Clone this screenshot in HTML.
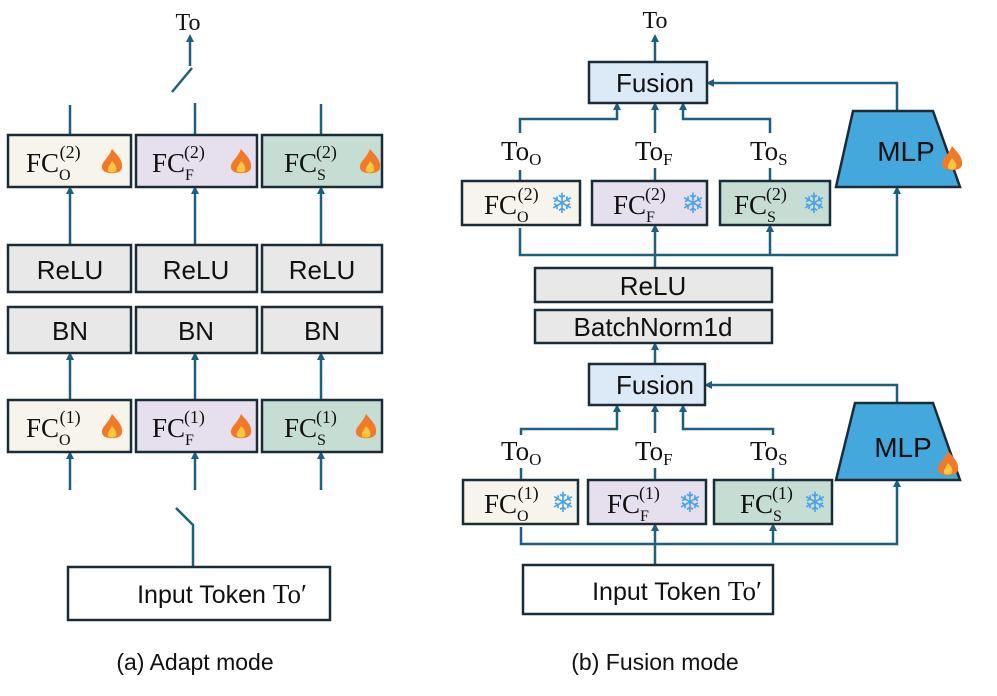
<!DOCTYPE html>
<html><head><meta charset="utf-8"><style>
body{margin:0;background:#fff}
svg text{font-family:"Liberation Sans",sans-serif}
svg text.s, svg .s text, svg tspan.s{font-family:"Liberation Serif",serif}
</style></head><body>
<svg width="997" height="691" viewBox="0 0 997 691" xmlns="http://www.w3.org/2000/svg">
<defs>
<marker id="a" markerWidth="8" markerHeight="8" refX="4" refY="4" orient="auto" markerUnits="userSpaceOnUse"><path d="M0,0 L8,4 L0,8 z" fill="#1d5f80"/></marker>
<g id="fire"><path d="M0,-14 C7,-6 11,-2 10,5 C9,12 -9,12 -10,5 C-11,-1 -4,-4 0,-14z" fill="#f07a2a"/><path d="M0,-2 C4,2 5,5 4,8 C2,10 -3,10 -4,8 C-5,5 -2,2 0,-2z" fill="#ffc640"/></g>
</defs>
<g stroke="#1d5f80" stroke-width="2.5" fill="none">
<line x1="190" y1="66" x2="190" y2="38" marker-end="url(#a)"/>
<line x1="172" y1="92" x2="192" y2="68"/>
<line x1="70" y1="105" x2="70" y2="135"/><line x1="195" y1="103" x2="195" y2="135"/><line x1="321" y1="104" x2="321" y2="135"/>
<line x1="70" y1="245" x2="70" y2="190" marker-end="url(#a)"/><line x1="195" y1="245" x2="195" y2="190" marker-end="url(#a)"/><line x1="321" y1="245" x2="321" y2="190" marker-end="url(#a)"/>
<line x1="70" y1="400" x2="70" y2="356" marker-end="url(#a)"/><line x1="195" y1="400" x2="195" y2="356" marker-end="url(#a)"/><line x1="321" y1="400" x2="321" y2="356" marker-end="url(#a)"/>
<line x1="70" y1="490" x2="70" y2="455" marker-end="url(#a)"/><line x1="195" y1="490" x2="195" y2="455" marker-end="url(#a)"/><line x1="321" y1="490" x2="321" y2="455" marker-end="url(#a)"/>
<polyline points="176,508 193,525 193,567"/>
<line x1="655" y1="62" x2="655" y2="38" marker-end="url(#a)"/>
<polyline points="520,181 520,170"/><polyline points="520,133 520,119 617,119 617,106" marker-end="url(#a)"/>
<line x1="655" y1="181" x2="655" y2="168"/><line x1="655" y1="133" x2="655" y2="106" marker-end="url(#a)"/>
<line x1="770" y1="181" x2="770" y2="168"/><polyline points="770,133 770,119 683,119 683,106" marker-end="url(#a)"/>
<polyline points="897,111 897,83 710,83" marker-end="url(#a)"/>
<polyline points="520,228 520,255 897,255 897,190" marker-end="url(#a)"/>
<line x1="655" y1="268" x2="655" y2="228" marker-end="url(#a)"/>
<line x1="770" y1="255" x2="770" y2="228" marker-end="url(#a)"/>
<line x1="655" y1="364" x2="655" y2="346" marker-end="url(#a)"/>
<polyline points="897,403 897,385 708,385" marker-end="url(#a)"/>
<line x1="521" y1="480" x2="521" y2="468"/><polyline points="521,435 521,429 617,429 617,408" marker-end="url(#a)"/>
<line x1="655" y1="480" x2="655" y2="468"/><line x1="655" y1="433" x2="655" y2="408" marker-end="url(#a)"/>
<line x1="773" y1="480" x2="773" y2="468"/><polyline points="773,435 773,429 683,429 683,408" marker-end="url(#a)"/>
<polyline points="521,527 521,544 897,544 897,483" marker-end="url(#a)"/>
<line x1="655" y1="565" x2="655" y2="527" marker-end="url(#a)"/>
<line x1="773" y1="544" x2="773" y2="527" marker-end="url(#a)"/>
</g>
<g stroke="#1a2c38" stroke-width="2.5">
<rect x="8" y="135" width="123" height="52" fill="#f7f4ec"/><rect x="136" y="135" width="121" height="52" fill="#e6dfee"/><rect x="262" y="135" width="120" height="52" fill="#c5ddd3"/>
<rect x="8" y="245" width="123" height="47" fill="#e8e8e8"/><rect x="136" y="245" width="121" height="47" fill="#e8e8e8"/><rect x="262" y="245" width="120" height="47" fill="#e8e8e8"/>
<rect x="8" y="307" width="123" height="46" fill="#e8e8e8"/><rect x="136" y="307" width="121" height="46" fill="#e8e8e8"/><rect x="262" y="307" width="120" height="46" fill="#e8e8e8"/>
<rect x="8" y="400" width="123" height="52" fill="#f7f4ec"/><rect x="136" y="400" width="121" height="52" fill="#e6dfee"/><rect x="262" y="400" width="120" height="52" fill="#c5ddd3"/>
<rect x="68" y="567" width="262" height="53" fill="#fff"/>
<rect x="589" y="62" width="118" height="41" fill="#dce9f6"/>
<rect x="462" y="181" width="118" height="44" fill="#f7f4ec"/><rect x="592" y="181" width="115" height="44" fill="#e6dfee"/><rect x="720" y="181" width="110" height="44" fill="#c5ddd3"/>
<polygon points="853,111 933,111 960,187 836,187" fill="#44a8dc"/>
<rect x="535" y="268" width="237" height="34" fill="#e8e8e8"/>
<rect x="535" y="310" width="237" height="33" fill="#e8e8e8"/>
<rect x="589" y="364" width="116" height="41" fill="#dce9f6"/>
<polygon points="855,403 933,403 960,480 836,480" fill="#44a8dc"/>
<rect x="463" y="480" width="115" height="44" fill="#f7f4ec"/><rect x="588" y="480" width="118" height="44" fill="#e6dfee"/><rect x="714" y="480" width="118" height="44" fill="#c5ddd3"/>
<rect x="523" y="565" width="250" height="49" fill="#fff"/>
</g>
<g fill="#111" font-size="26" text-anchor="middle">
<text class="s" x="188" y="30" font-size="24">To</text>
<text x="70" y="279">ReLU</text><text x="196" y="279">ReLU</text><text x="322" y="279">ReLU</text>
<text x="70" y="340">BN</text><text x="196" y="340">BN</text><text x="322" y="340">BN</text>
<text x="222" y="603" font-size="25">Input Token <tspan class="s" font-size="27">To′</tspan></text>
<text x="195" y="670" font-size="23">(a) Adapt mode</text>
<text class="s" x="655" y="28" font-size="24">To</text>
<text x="655" y="92">Fusion</text>
<text x="653" y="295">ReLU</text>
<text x="653" y="336">BatchNorm1d</text>
<text x="655" y="394">Fusion</text>
<text x="677" y="600" font-size="25">Input Token <tspan class="s" font-size="27">To′</tspan></text>
<text x="655" y="670" font-size="23">(b) Fusion mode</text>
<text x="906" y="161" font-size="28">MLP</text>
<text x="903" y="457" font-size="28">MLP</text>
</g>
<g class="s" fill="#111" font-size="27">
<text x="26" y="172">FC<tspan font-size="16" dy="8">O</tspan><tspan font-size="18" dx="-11" dy="-22">(2)</tspan></text>
<text x="152" y="172">FC<tspan font-size="16" dy="8">F</tspan><tspan font-size="18" dx="-10" dy="-22">(2)</tspan></text>
<text x="284" y="172">FC<tspan font-size="16" dy="8">S</tspan><tspan font-size="18" dx="-10" dy="-22">(2)</tspan></text>
<text x="26" y="437">FC<tspan font-size="16" dy="8">O</tspan><tspan font-size="18" dx="-11" dy="-22">(1)</tspan></text>
<text x="152" y="437">FC<tspan font-size="16" dy="8">F</tspan><tspan font-size="18" dx="-10" dy="-22">(1)</tspan></text>
<text x="284" y="437">FC<tspan font-size="16" dy="8">S</tspan><tspan font-size="18" dx="-10" dy="-22">(1)</tspan></text>
<text x="484" y="214">FC<tspan font-size="16" dy="8">O</tspan><tspan font-size="18" dx="-11" dy="-22">(2)</tspan></text>
<text x="613" y="214">FC<tspan font-size="16" dy="8">F</tspan><tspan font-size="18" dx="-10" dy="-22">(2)</tspan></text>
<text x="734" y="214">FC<tspan font-size="16" dy="8">S</tspan><tspan font-size="18" dx="-10" dy="-22">(2)</tspan></text>
<text x="484" y="513">FC<tspan font-size="16" dy="8">O</tspan><tspan font-size="18" dx="-11" dy="-22">(1)</tspan></text>
<text x="607" y="513">FC<tspan font-size="16" dy="8">F</tspan><tspan font-size="18" dx="-10" dy="-22">(1)</tspan></text>
<text x="740" y="513">FC<tspan font-size="16" dy="8">S</tspan><tspan font-size="18" dx="-10" dy="-22">(1)</tspan></text>
<text x="501" y="160">To<tspan font-size="17" dy="5">O</tspan></text>
<text x="635" y="160">To<tspan font-size="17" dy="5">F</tspan></text>
<text x="750" y="160">To<tspan font-size="17" dy="5">S</tspan></text>
<text x="501" y="460">To<tspan font-size="17" dy="5">O</tspan></text>
<text x="635" y="460">To<tspan font-size="17" dy="5">F</tspan></text>
<text x="750" y="460">To<tspan font-size="17" dy="5">S</tspan></text>
</g>
<use href="#fire" x="112" y="163"/><use href="#fire" x="241" y="163"/><use href="#fire" x="370" y="163"/>
<use href="#fire" x="112" y="428"/><use href="#fire" x="241" y="428"/><use href="#fire" x="366" y="428"/>
<use href="#fire" x="952" y="160"/><use href="#fire" x="948" y="465"/>
<g fill="#4aa3ea" font-family="DejaVu Sans,sans-serif" font-size="28" text-anchor="middle">
<text x="562" y="213">❄</text><text x="693" y="213">❄</text><text x="814" y="213">❄</text>
<text x="563" y="512">❄</text><text x="690" y="512">❄</text><text x="815" y="512">❄</text>
</g>
</svg>
</body></html>
